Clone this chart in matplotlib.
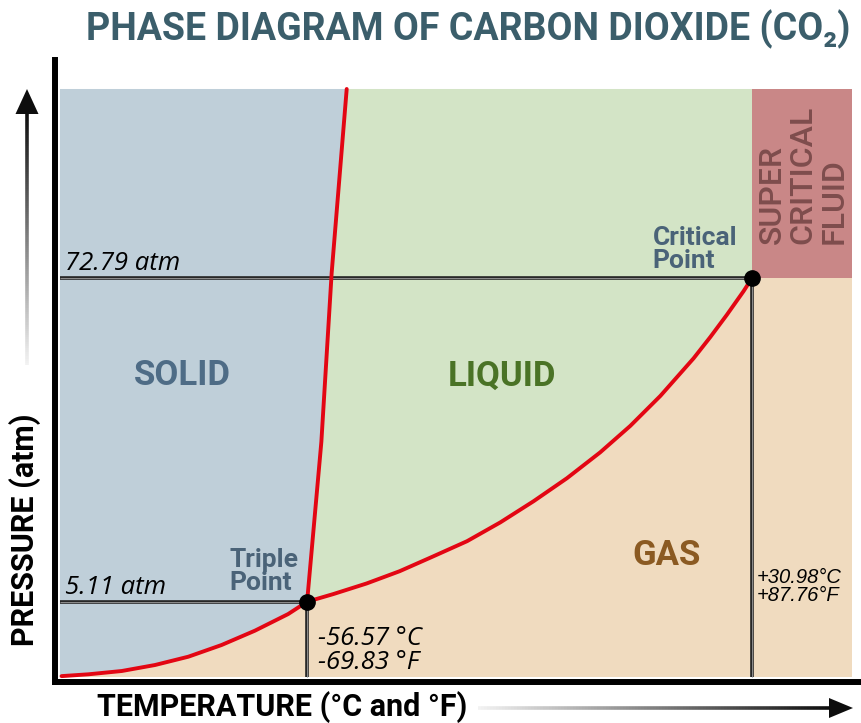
import numpy as np
import matplotlib.pyplot as plt
from matplotlib.collections import LineCollection
from matplotlib.patches import Polygon
from matplotlib import font_manager

# schematic coordinates: 0..100 across the coloured plot area
triple_point = (31.2, 12.8)
critical_point = (87.4, 67.9)

sublimation_t = [0.2, 3.6, 7.8, 12.0, 16.2, 20.4, 24.6, 28.8, 31.2]
sublimation_p = [0.15, 0.46, 1.02, 2.04, 3.45, 5.44, 7.87, 10.7, 12.8]

melting_t = [31.2, 33.0, 34.3, 36.2]
melting_p = [12.8, 40.0, 68.7, 100.0]

vapor_t = [31.2, 34.5, 38.7, 42.9, 47.1, 51.4, 55.6, 59.8, 64.0, 68.2,
           72.0, 75.8, 80.0, 82.1, 84.2, 86.3, 87.4]
vapor_p = [12.8, 14.1, 15.9, 18.0, 20.5, 23.1, 26.3, 29.9, 33.8, 38.2,
           42.7, 47.8, 54.2, 57.8, 61.6, 65.6, 67.9]

pressure_labels = ['72.79 atm', '5.11 atm']
triple_temps = ['-56.57 °C', '-69.83 °F']
critical_temps = ['+30.98°C', '+87.76°F']
phase_names = ['SOLID', 'LIQUID', 'GAS']
super_words = ['SUPER', 'CRITICAL', 'FLUID']

names = {f.name for f in font_manager.fontManager.ttflist}
def pick(*fams):
    for f in fams:
        if f in names:
            return f
    return 'DejaVu Sans'

title_font = pick('Liberation Sans Narrow', 'Roboto', 'DejaVu Sans')
label_font = pick('Roboto', 'Open Sans', 'DejaVu Sans')
ital_font = pick('Open Sans', 'Lato', 'DejaVu Sans')
arial = pick('Liberation Sans', 'DejaVu Sans')

W, H = 862, 723
fig = plt.figure(figsize=(W / 100, H / 100), dpi=100)

# main axes, spines sit just outside the coloured area
ax = fig.add_axes([55 / W, 1 - 682 / H, (862 - 55) / W, (682 - 60) / H])
ax.set_xlim(-0.63, 101.26)
ax.set_ylim(-0.85, 104.93)
ax.set_xticks([])
ax.set_yticks([])
for s in ['top', 'right']:
    ax.spines[s].set_visible(False)
for s in ['left', 'bottom']:
    ax.spines[s].set_linewidth(4.3)
    ax.spines[s].set_capstyle('projecting')

c_solid = '#bfcfd9'
c_liquid = '#d3e4c6'
c_gas = '#f0dbbf'
c_super = '#c98787'

ax.add_patch(Polygon([(0, 0), (100, 0), (100, 100), (0, 100)], color=c_gas, lw=0))
solid_poly = list(zip(sublimation_t, sublimation_p)) + list(zip(melting_t, melting_p))[1:] + [(0, 100), (0, 0)]
ax.add_patch(Polygon(solid_poly, color=c_solid, lw=0))
liquid_poly = list(zip(melting_t, melting_p)) + [(critical_point[0], 100)] + list(zip(vapor_t, vapor_p))[::-1]
ax.add_patch(Polygon(liquid_poly, color=c_liquid, lw=0))
ax.add_patch(Polygon([(critical_point[0], critical_point[1]), (100, critical_point[1]), (100, 100),
                      (critical_point[0], 100)], color=c_super, lw=0))

# reference lines (dark with grey centre)
for xs, ys in [([0, critical_point[0]], [critical_point[1]] * 2),
               ([0, triple_point[0]], [triple_point[1]] * 2),
               ([critical_point[0]] * 2, [0, critical_point[1]]),
               ([triple_point[0]] * 2, [0, triple_point[1]])]:
    ax.plot(xs, ys, color='#222222', lw=2.6, solid_capstyle='butt')
    ax.plot(xs, ys, color='#8a8a8a', lw=0.8, solid_capstyle='butt')

red = '#e30613'
for t, p in [(sublimation_t, sublimation_p), (melting_t, melting_p), (vapor_t, vapor_p)]:
    ax.plot(t, p, color=red, lw=2.8, solid_joinstyle='round', solid_capstyle='round')
ax.plot(*triple_point, 'o', color='black', ms=11)
ax.plot(*critical_point, 'o', color='black', ms=11)

# phase labels
ax.text(15.5, 51.2, phase_names[0], color='#4e6c86', fontsize=25, fontweight='bold',
        family=label_font, ha='center', va='center')
ax.text(55.8, 51.2, phase_names[1], color='#4a7326', fontsize=25, fontweight='bold',
        family=label_font, ha='center', va='center')
ax.text(76.6, 20.7, phase_names[2], color='#8b5a22', fontsize=25, fontweight='bold',
        family=label_font, ha='center', va='center')

for xc, word in zip([89.9, 93.8, 97.7], super_words):
    ax.text(xc, 73.6, word, rotation=90, color='#7e4d4d', fontsize=23, family=label_font,
            fontweight='medium', ha='center', va='bottom')

ax.text(21.4, 13.9, 'Triple\nPoint', color='#4a6378', fontsize=19, fontweight='bold',
        family=label_font, ha='left', va='bottom', linespacing=0.95)
ax.text(74.8, 68.7, 'Critical\nPoint', color='#4a6378', fontsize=19, fontweight='bold',
        family=label_font, ha='left', va='bottom', linespacing=0.95)

ax.text(0.6, 69.3, pressure_labels[0], fontsize=18.5, style='italic', family=ital_font,
        ha='left', va='baseline')
ax.text(0.6, 14.2, pressure_labels[1], fontsize=18.5, style='italic', family=ital_font,
        ha='left', va='baseline')
ax.text(32.6, 8.6, '\n'.join(triple_temps), fontsize=18.5, style='italic', family=ital_font,
        ha='left', va='top', linespacing=0.95)
ax.text(88.0, 18.6, '\n'.join(critical_temps), fontsize=14.5, style='italic', family=arial,
        ha='left', va='top', linespacing=0.95)

# titles and axis labels
fig.text(468 / W, 1 - 29 / H, 'PHASE DIAGRAM OF CARBON DIOXIDE (CO\u2082)', color='#3b5e6b',
         fontsize=27, fontweight='bold', family=[title_font, 'DejaVu Sans'],
         ha='center', va='center')
fig.text(25 / W, 1 - 530 / H, 'PRESSURE (atm)', rotation=90, fontsize=22, fontweight='bold',
         family=label_font, ha='center', va='center')
fig.text(282 / W, 1 - 707 / H, 'TEMPERATURE (°C and °F)', fontsize=22, fontweight='bold',
         family=label_font, ha='center', va='center')

# gradient arrows drawn in pixel space
ov = fig.add_axes([0, 0, 1, 1], facecolor='none')
ov.set_xlim(0, W)
ov.set_ylim(H, 0)
ov.axis('off')

n = 120
vy = np.linspace(365, 112, n)
segs = [[(27, vy[i]), (27, vy[i + 1])] for i in range(n - 1)]
shade = np.linspace(0.95, 0.05, n - 1)
ov.add_collection(LineCollection(segs, colors=[(g, g, g) for g in shade], linewidths=2.6))
ov.add_patch(Polygon([(27, 89), (15.5, 114), (38.5, 114)], color='#0d0d0d', lw=0))

hx = np.linspace(478, 831, n)
segs = [[(hx[i], 708), (hx[i + 1], 708)] for i in range(n - 1)]
ov.add_collection(LineCollection(segs, colors=[(g, g, g) for g in shade], linewidths=2.6))
ov.add_patch(Polygon([(853, 708), (829, 698), (829, 718)], color='#0d0d0d', lw=0))

fig.savefig('out.png', dpi=100)
